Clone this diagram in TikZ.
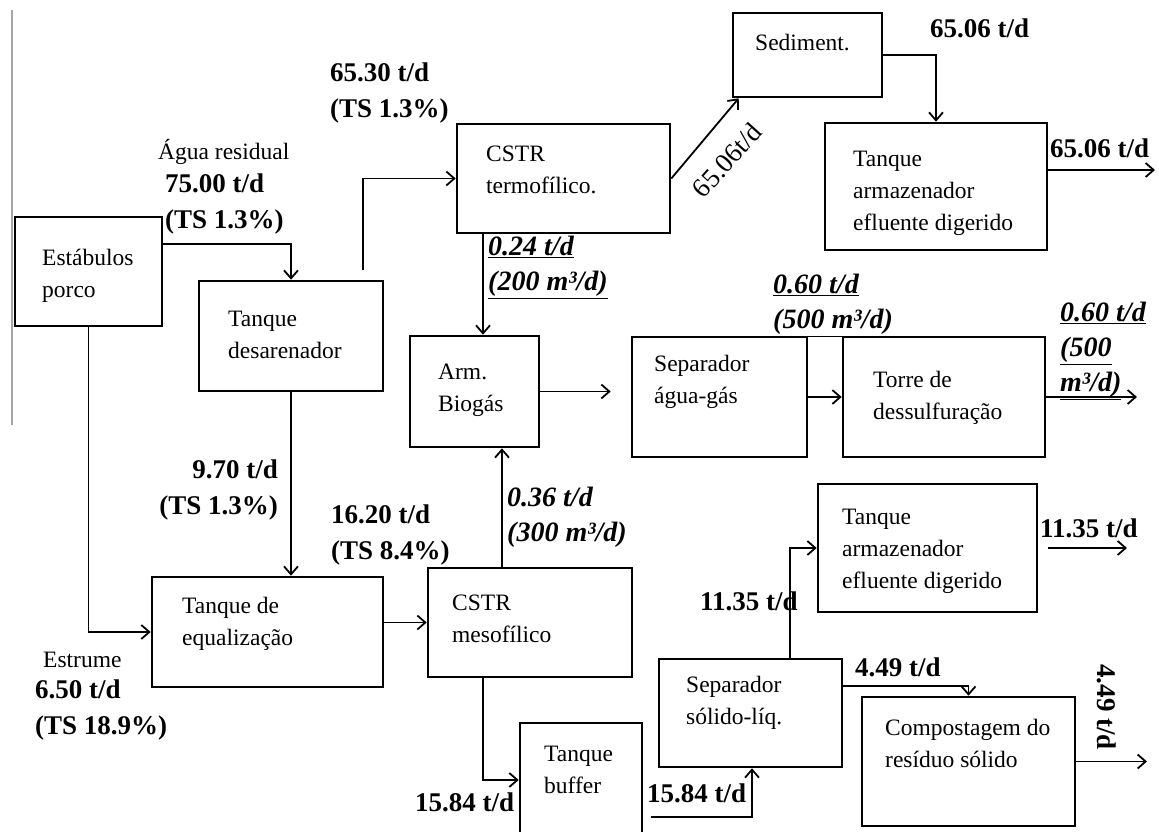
\documentclass[tikz,border=0pt]{standalone}
\usepackage{fontspec}
\setmainfont{Liberation Serif}
\usetikzlibrary{arrows.meta,positioning}

\begin{document}
\begin{tikzpicture}[x=1pt,y=-1pt,
      box/.style={draw,line width=2.6pt,inner sep=0pt},
      txt/.style={anchor=west,align=left,inner sep=0pt,font=\fontsize{23.5}{32}\selectfont},
      flow/.style={anchor=west,align=left,inner sep=0pt,font=\fontsize{27}{36}\selectfont\bfseries},
      gas/.style={flow,font=\fontsize{28}{35}\selectfont\bfseries\itshape},
      arr/.style={-{Straight Barb[length=8pt,width=14pt]},line width=1.8pt}]
    \clip (0,0) rectangle (1159,832);
    \draw[gray!70,line width=1.5pt] (12,10) -- (12,425);
    % process boxes
    \node[box,minimum width=147pt,minimum height=109pt](stab) at (88.5,271.5){};
    \node[box,minimum width=184pt,minimum height=110pt](desar) at (291,336){};
    \node[box,minimum width=213pt,minimum height=109pt](termo) at (563.5,178.5){};
    \node[box,minimum width=149pt,minimum height=84pt](sedim) at (807.5,55){};
    \node[box,minimum width=222pt,minimum height=127pt](armtop) at (936,186.5){};
    \node[box,minimum width=129pt,minimum height=111pt](biogas) at (474.5,391.5){};
    \node[box,minimum width=175pt,minimum height=120pt](sepag) at (719.5,397){};
    \node[box,minimum width=202pt,minimum height=120pt](torre) at (944,397){};
    \node[box,minimum width=219pt,minimum height=128pt](armbot) at (927.5,548){};
    \node[box,minimum width=231pt,minimum height=110pt](equal) at (267.5,632){};
    \node[box,minimum width=204pt,minimum height=109pt](meso) at (530,622.5){};
    \node[box,minimum width=122pt,minimum height=127pt](buffer) at (581,786.5){};
    \node[box,minimum width=183pt,minimum height=108pt](sepsl) at (750.5,713){};
    \node[box,minimum width=213pt,minimum height=129pt](compost) at (968.5,761.5){};
    % box texts
    \node[txt](tstab) at (42,276){Estábulos\\porco};
    \node[txt](tdesar) at (228,335){Tanque\\desarenador};
    \node[txt](ttermo) at (486,170){CSTR\\termofílico.};
    \node[txt](tsedim) at (755,43){Sediment.};
    \node[txt](tarmtop) at (853,193){Tanque\\armazenador\\efluente digerido};
    \node[txt](tbiogas) at (438,390){Arm.\\Biogás};
    \node[txt](tsepag) at (654,382){Separador\\água-gás};
    \node[txt](ttorre) at (873,398){Torre de\\dessulfuração};
    \node[txt](tarmbot) at (842,551){Tanque\\armazenador\\efluente digerido};
    \node[txt](tequal) at (182,624){Tanque de\\equalização};
    \node[txt](tmeso) at (452,619){CSTR\\mesofílico};
    \node[txt](tbuffer) at (544,770){Tanque\\buffer};
    \node[txt](tsepsl) at (686,703){Separador\\sólido-líq.};
    \node[txt](tcompost) at (885,743){Compostagem do\\resíduo sólido};
    % free ends
    \coordinate (desout) at (363,270);
    \coordinate (gasout) at (1137,397);
    \coordinate (effout) at (1155,170);
    \coordinate (liqout) at (1127,548);
    \coordinate (solout) at (1147,761.5);
    % flows
    \draw[arr](stab.east |- 0,244) -| (desar.north);
    \draw[arr](desout) |- (termo.west);
    \draw[arr](desar.south) -- (desar.south |- equal.north);
    \draw[arr](stab.south) |- (equal.west);
    \draw[arr](meso.west -| equal.east) -- (meso.west);
    \draw[arr](meso.north -| 502,0) -- (biogas.south -| 502,0);
    \draw[arr](termo.south -| 483,0) -- (biogas.north -| 483,0);
    \draw[arr,shorten >=20pt](biogas.east) -- (sepag.west |- biogas.east);
    \draw[arr](sepag.east) -- (torre.west);
    \draw[arr](torre.east) -- (gasout);
    \draw[arr](termo.east) -- ([xshift=7pt]sedim.south west);
    \draw[arr](sedim.east) -| (armtop.north);
    \draw[arr](armtop.east |- 0,170) -- (effout);
    \draw[arr](meso.south -| 483,0) |- (buffer.west |- 0,780);
    \draw[arr,shorten <=8pt](buffer.east |- 0,817) -| (sepsl.south -| 752,0);
    \draw[arr](sepsl.north -| 790,0) |- (armbot.west);
    \draw[arr,shorten <=10pt](armbot.east) -- (liqout);
    \draw[arr](sepsl.east |- 0,686) -| (compost.north);
    \draw[arr](compost.east) -- (solout);
    % flow labels
    \node[txt](lagua) at (158,152){Água residual};
    \node[flow](fagua) at (165,204.5){75.00 t/d\\(TS 1.3\%)};
    \node[flow](ftermo) at (330,93.5){65.30 t/d\\(TS 1.3\%)};
    \node[flow,anchor=east,align=right](fequal) at (278,490.5){9.70 t/d\\(TS 1.3\%)};
    \node[flow](fmeso) at (331,535){16.20 t/d\\(TS 8.4\%)};
    \node[txt](lestr) at (43,660){Estrume};
    \node[flow](festr) at (35,710){6.50 t/d\\(TS 18.9\%)};
    \node[gas](gtermo) at (488,267.5){\underline{0.24 t/d}\\\underline{(200 m³/d)}};
    \node[gas](gmeso) at (507,517.5){0.36 t/d\\(300 m³/d)};
    \node[gas](gsep) at (773,305.5){\underline{0.60 t/d}\\\underline{(500 m³/d)}};
    \node[gas](gout) at (1060,351){\underline{0.60 t/d}\\\underline{(500}\\\underline{m³/d)}};
    \node[flow](fsedim) at (930,28){65.06 t/d};
    \node[flow](feff) at (1050,148){65.06 t/d};
    \node[font=\fontsize{27}{32}\selectfont,rotate=48,inner sep=0pt](fdiag) at (727,160){65.06t/d};
    \node[flow](fliq) at (1040,528){11.35 t/d};
    \node[flow](fliqin) at (700,601){11.35 t/d};
    \node[flow](fsol) at (855,667){4.49 t/d};
    \node[flow,anchor=center,rotate=-90](fsolout) at (1107,707){4.49 t/d};
    \node[flow](fbuf) at (415,802){15.84 t/d};
    \node[flow](fbufout) at (647,793){15.84 t/d};
  \end{tikzpicture}
\end{document}
